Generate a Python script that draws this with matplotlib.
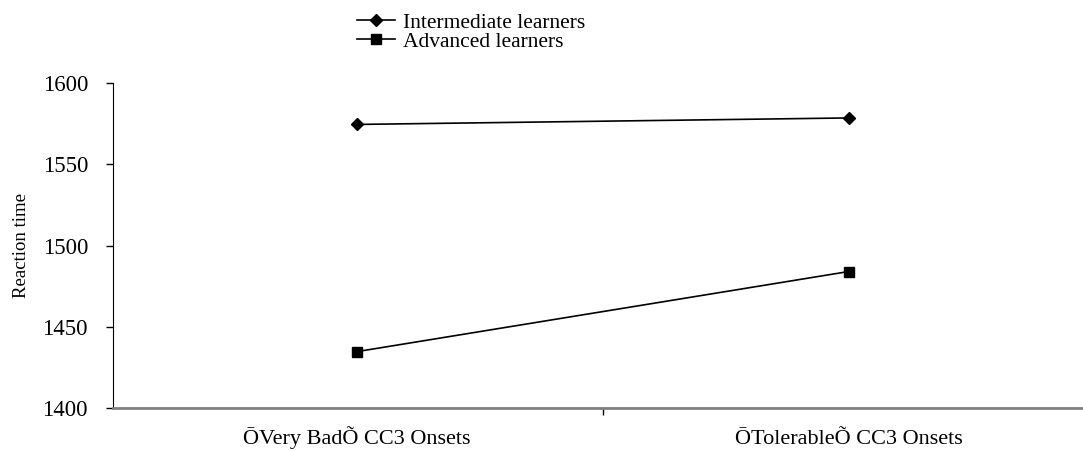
import matplotlib.pyplot as plt
import numpy as np

plt.rcParams['font.family'] = ['Liberation Serif', 'DejaVu Serif']

# data
categories = ['ŌVery BadÕ CC3 Onsets', 'ŌTolerableÕ CC3 Onsets']
intermediate = [1574.5, 1578.5]
advanced = [1434.7, 1484]
y_ticks = [1400, 1450, 1500, 1550, 1600]

W, H = 1083, 451
fig = plt.figure(figsize=(W / 100, H / 100), dpi=100)
ax = fig.add_axes([113 / W, (H - 408) / H, (W - 113) / W, (408 - 83) / H])

x = np.arange(len(categories))
ax.plot(x, intermediate, color='black', lw=1.2, marker='D', ms=6.5,
        label='Intermediate learners', clip_on=False)
ax.plot(x, advanced, color='black', lw=1.2, marker='s', ms=7,
        label='Advanced learners', clip_on=False)

ax.set_ylim(1400, 1600)
ax.set_xlim(-0.496, 1.476)
ax.set_yticks(y_ticks)
ax.tick_params(axis='y', labelsize=16.5, length=5, width=1, pad=13)

# category labels as text on a common baseline, boundary tick between them
ax.set_xticks([0.5])
ax.set_xticklabels([])
ax.tick_params(axis='x', length=5, width=1, color='black')
for xi, lab in zip(x, categories):
    ax.text(xi, -(444 - 408) / 325, lab, transform=ax.get_xaxis_transform(),
            ha='center', va='baseline', fontsize=16)

ax.set_ylabel('Reaction time', fontsize=13.5, labelpad=9)

for s in ['top', 'right']:
    ax.spines[s].set_visible(False)
ax.spines['left'].set_color('black')
ax.spines['bottom'].set_color('#808080')
ax.spines['bottom'].set_linewidth(2)

ax.legend(loc='upper left', bbox_to_anchor=(357 / W, 1 - 12.5 / H),
          bbox_transform=fig.transFigure, frameon=False, fontsize=15.5,
          handlelength=1.77, handletextpad=0.37, labelspacing=-0.04,
          borderpad=0, borderaxespad=0)

fig.savefig('out.png', dpi=100)
